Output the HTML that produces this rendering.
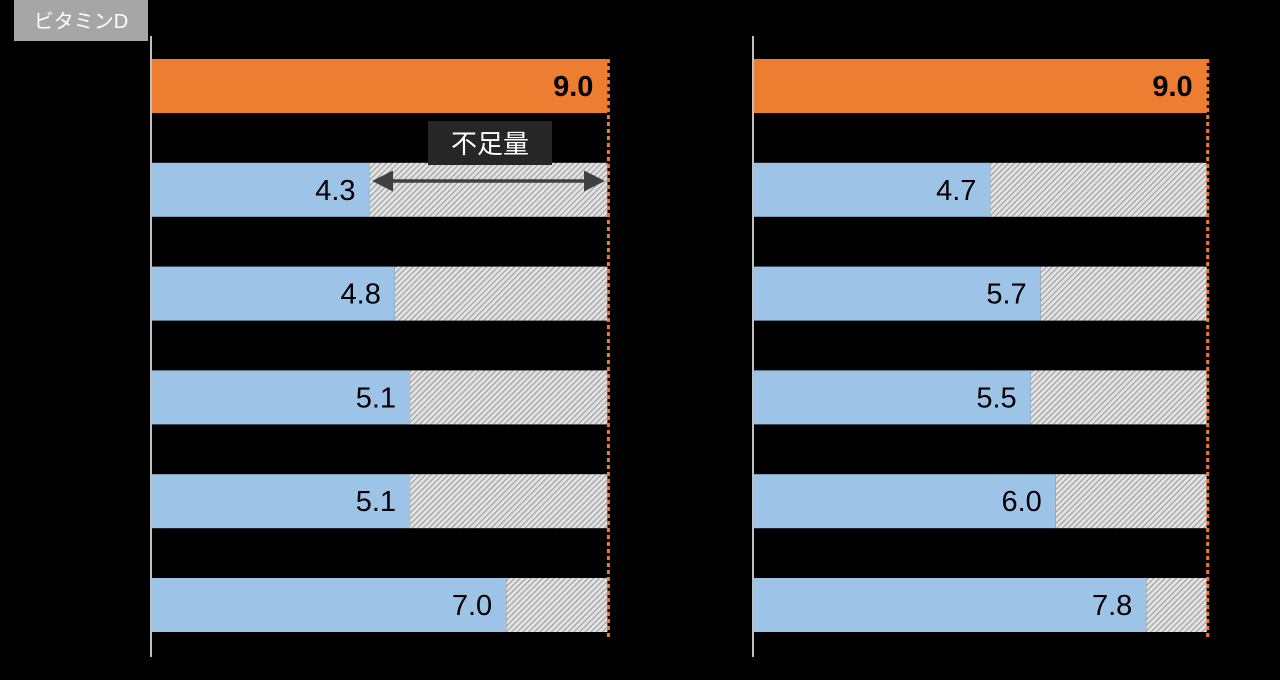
<!DOCTYPE html>
<html><head><meta charset="utf-8"><style>
html,body{margin:0;padding:0;background:#000;width:1280px;height:680px;overflow:hidden}
svg{display:block}
text{font-family:"Liberation Sans","Noto Sans CJK JP",sans-serif}
</style></head><body>
<svg id="chart" width="1280" height="680">
<defs>
<pattern id="hatch" width="4" height="4" patternUnits="userSpaceOnUse" patternTransform="rotate(45)">
<rect width="4" height="4" fill="#e4e4e4"/><rect width="1.4" height="4" fill="#a8a8a8"/>
</pattern>
<marker id="ah" markerWidth="6" markerHeight="6" refX="5" refY="3" orient="auto-start-reverse"><path d="M0,0 L6,3 L0,6 z" fill="#404040"/></marker>
</defs>
<rect x="14" y="0" width="134" height="41" fill="#a6a6a6"/>
<text x="81" y="28" font-size="20" fill="#fff" text-anchor="middle">ビタミンD</text>
<g id="marks"></g>
</svg>
<script>
const targetValue = 9.0;
const leftValues = [9.0, 4.3, 4.8, 5.1, 5.1, 7.0];
const rightValues = [9.0, 4.7, 5.7, 5.5, 6.0, 7.8];
const leftLabels = ["9.0","4.3","4.8","5.1","5.1","7.0"];
const rightLabels = ["9.0","4.7","5.7","5.5","6.0","7.8"];
const NS = "http://www.w3.org/2000/svg";
const g = document.getElementById('marks');
function mk(tag, attrs){const e=document.createElementNS(NS,tag);for(const k in attrs)e.setAttribute(k,attrs[k]);g.appendChild(e);return e;}
function yPos(i){return 59 + i*103.8;}
const barH = 54;
function panel(x0, scale, vals, labels, side){
  const xs = v => x0 + v*scale;
  const ax = mk('line',{x1:x0-1,x2:x0-1,y1:36,y2:657,stroke:'#fff','stroke-width':1.5});
  
  
  vals.forEach((v,i)=>{
    const y=yPos(i);
    if(i>0){
      const h=mk('rect',{x:xs(v),y:y,width:xs(targetValue)-xs(v),height:barH,fill:'url(#hatch)'});
      
      
    }
    const r=mk('rect',{x:x0,y:y,width:xs(v)-x0,height:barH,fill:i===0?'#ed7d31':'#9dc3e6'});
    
    
    const t=mk('text',{x:xs(v)-14,y:y+37,'font-size':29,'text-anchor':'end',fill:'#000','font-weight':i===0?'bold':'normal'});
    t.textContent=labels[i];
    
    
  });
  const dl=mk('line',{x1:xs(targetValue)+1,x2:xs(targetValue)+1,y1:59,y2:637,stroke:'#ed7d31','stroke-width':3,'stroke-dasharray':'4,3'});
  
  
  return xs;
}
const lx = panel(152, 50.6, leftValues, leftLabels, 'left');
panel(754, 50.3, rightValues, rightLabels, 'right');
const box=mk('rect',{x:428,y:121,width:124,height:44,fill:'#262626'});


const bt=mk('text',{x:490,y:153,'font-size':26,'text-anchor':'middle',fill:'#fff'});
bt.textContent='不足量';


const ar=mk('line',{x1:lx(leftValues[1])+6,x2:lx(targetValue)-6,y1:181,y2:181,stroke:'#404040','stroke-width':3.5,'marker-start':'url(#ah)','marker-end':'url(#ah)'});


</script>
</body></html>
